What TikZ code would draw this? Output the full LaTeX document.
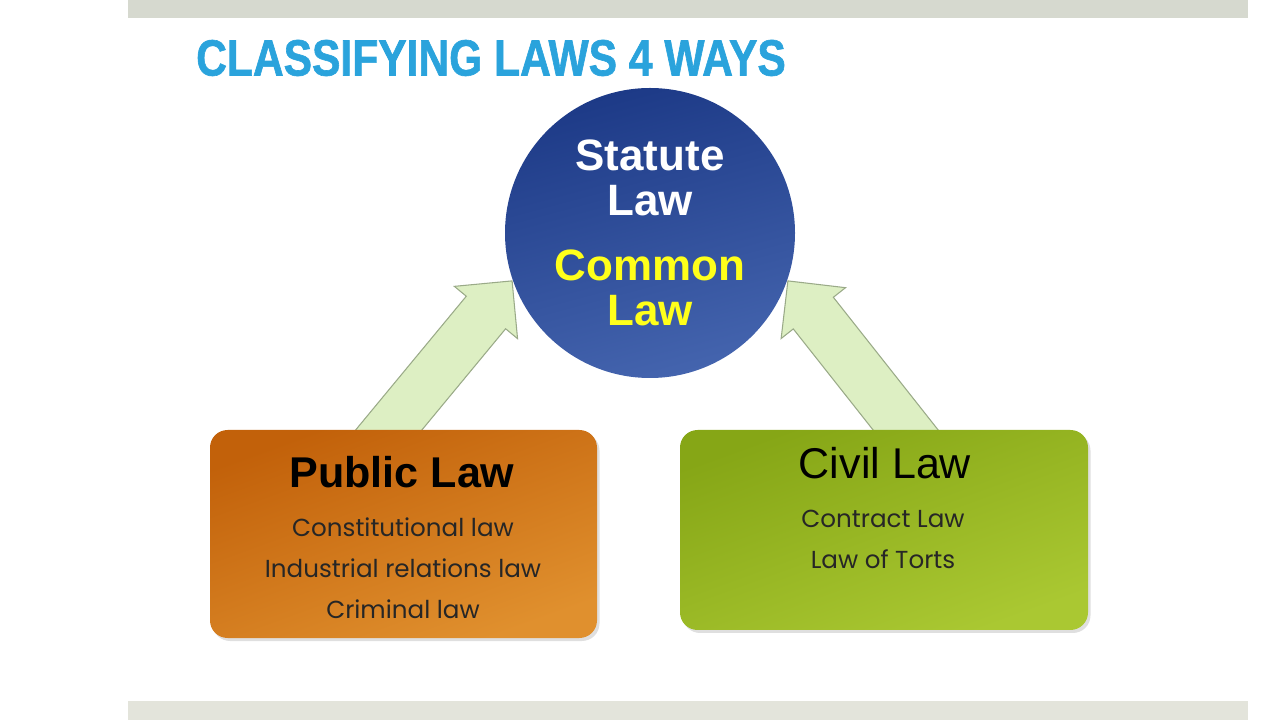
\documentclass[tikz,border=0pt]{standalone}
\usepackage{fontspec}
\setmainfont{Liberation Sans}
\newfontfamily\titlefont{Liberation Sans}[FakeStretch=0.835, FakeBold=1.2]
\newfontfamily\gothic{Poppins}
\usepackage{xcolor}
\usepackage{tikz}
\usetikzlibrary{
    positioning,
    shapes.arrows,
    shadows
}

\definecolor{barTop}{HTML}{D6D9CF}
\definecolor{barBot}{HTML}{E3E4DB}
\definecolor{titleBlue}{HTML}{2AA3DC}
\definecolor{lawTop}{HTML}{1D3A87}
\definecolor{lawBot}{HTML}{4464AE}
\definecolor{pubTop}{HTML}{C2610A}
\definecolor{pubBot}{HTML}{E0902E}
\definecolor{civTop}{HTML}{86A616}
\definecolor{civBot}{HTML}{AAC832}
\definecolor{arrFill}{HTML}{DDEFC3}
\definecolor{arrEdge}{HTML}{9AAA88}
\definecolor{lawYellow}{HTML}{FFFF1A}

\begin{document}
\begin{tikzpicture}[
lawbox/.style={
rounded corners=10pt,
drop shadow={opacity=0.25, shadow xshift=0.05cm, shadow yshift=-0.06cm}
},
uparrow/.style={
single arrow,
single arrow head extend=0.31cm,
single arrow tip angle=90,
inner sep=0pt,
inner ysep=0.5cm,
minimum height=4.4cm,
fill=arrFill,
draw=arrEdge,
line width=0.6pt
},
headtext/.style={
font=\fontsize{24.5pt}{25pt}\selectfont,
text=black
},
listtext/.style={
font=\gothic\fontsize{14pt}{23.3pt}\selectfont,
align=center,
text=black!85
}
]
\useasboundingbox (0,0) rectangle (25.6,14.4);

% bars and title
\fill[barTop] (2.56,14.04) rectangle (24.96,14.4);
\fill[barBot] (2.56,0) rectangle (24.96,0.38);

\node[font=\titlefont\bfseries\fontsize{29pt}{30pt}\selectfont,
text=titleBlue] (title) at (9.82,13.24)
{CLASSIFYING LAWS 4 WAYS};

% sources of law
\node[circle, minimum size=5.8cm, top color=lawTop, bottom color=lawBot,
shading angle=15] (law) at (13.0,9.74) {};

\node[font=\bfseries\fontsize{25pt}{0.9cm}\selectfont, text=white,
align=center] (statute) at (13.0,10.85)
{Statute\\Law};

\node[font=\bfseries\fontsize{25pt}{0.9cm}\selectfont, text=lawYellow,
align=center] (common) at (13.0,8.65)
{Common\\Law};

% arrows behind the boxes
\node[uparrow, rotate=50.4, anchor=tip] (arrL) at (law.199) {};
\node[uparrow, rotate=128.3, anchor=tip] (arrR) at (law.341) {};

% public law
\node[lawbox, minimum width=7.74cm, minimum height=4.16cm,
top color=pubTop, bottom color=pubBot, shading angle=20] (pubbox)
at (8.07,3.72) {};

\node[headtext, font=\bfseries\fontsize{24.5pt}{25pt}\selectfont]
(pubtitle) at (8.04,4.96) {Public Law};

\node[listtext] (publist) at (8.06,3.04)
{Constitutional law\\Industrial relations law\\Criminal law};

% civil law
\node[lawbox, minimum width=8.16cm, minimum height=4.0cm,
top color=civTop, bottom color=civBot, shading angle=20] (civbox)
at (17.68,3.80) {};

\node[headtext] (civtitle) at (17.70,5.14) {Civil Law};

\node[listtext] (civlist) at (17.66,3.61)
{Contract Law\\Law of Torts};

\end{tikzpicture}
\end{document}
